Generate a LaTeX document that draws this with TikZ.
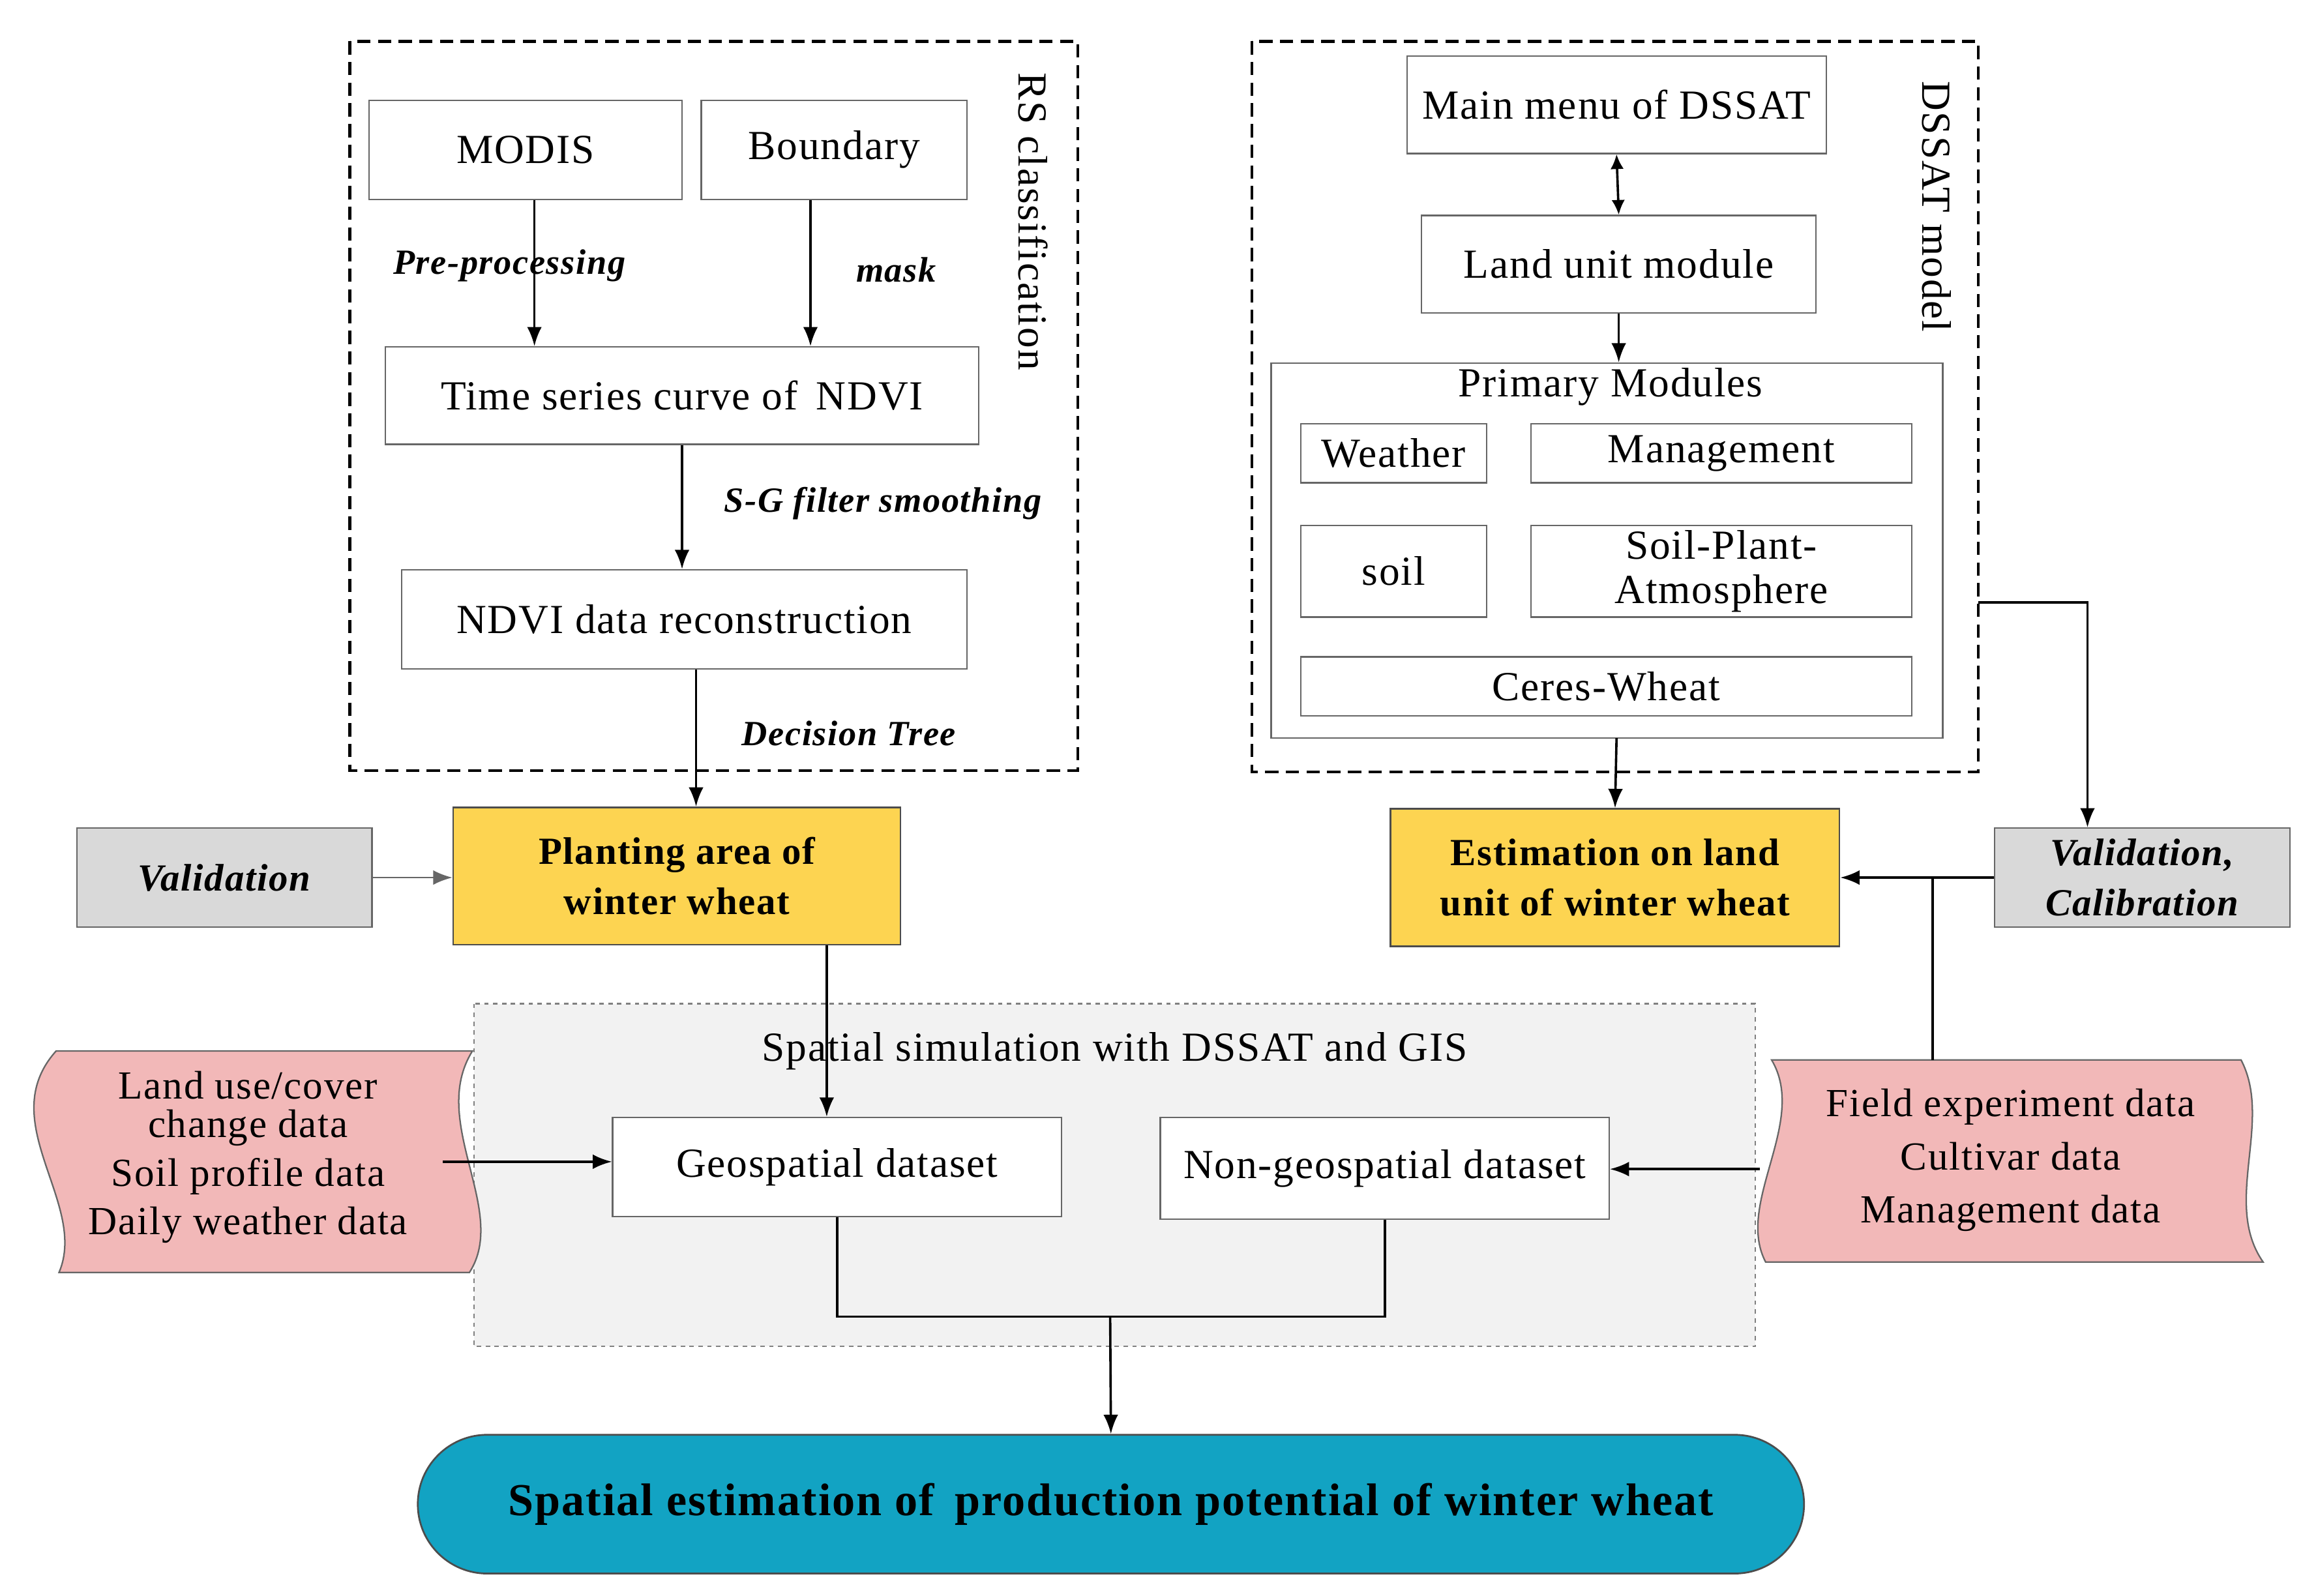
\documentclass[tikz,border=0pt]{standalone}
\usepackage{fontspec}
\setmainfont{Liberation Serif}[LetterSpace=3]
\usetikzlibrary{arrows.meta,calc}
\definecolor{yel}{HTML}{FDD451}
\definecolor{gr}{HTML}{D9D9D9}
\definecolor{pink}{HTML}{F2B8B8}
\definecolor{teal}{HTML}{12A3C3}
\begin{document}
\begin{tikzpicture}[x=1pt,y=-1pt,
 every node/.style={font=\fontsize{28}{30}\selectfont},
 box/.style={draw=black!60,line width=1pt,inner sep=0pt,align=center},
 dbox/.style={draw,dashed,line width=2pt,dash pattern=on 9pt off 5pt},
 arr/.style={line width=1.6pt,-{Latex[length=13pt,width=10pt]}},
 ln/.style={line width=1.6pt},
 lab/.style={font=\fontsize{24}{26}\selectfont\bfseries\itshape},
 hl/.style={box,draw=black!70,line width=1.2pt,font=\fontsize{26}{34}\selectfont\bfseries}]
\useasboundingbox (0,0) rectangle (1560,1081);
% RS classification
\draw[dbox] (237,28) rectangle (730,522);
\node[rotate=-90] (rs) at (700,150) {RS classification};
\node[box,minimum width=212pt,minimum height=67pt] (modis) at (356,101.5) {MODIS};
\node[box,minimum width=180pt,minimum height=67pt] (bnd) at (565,101.5) {Boundary};
\node[box,minimum width=402pt,minimum height=66pt] (ts) at (462,268) {Time series curve of\, NDVI};
\node[box,minimum width=383pt,minimum height=67pt] (rec) at (463.5,419.5) {NDVI data reconstruction};
\draw[arr] ($(modis.south)+(6,0)$) -- ($(modis.south|-ts.north)+(6,0)$);
\draw[arr] ($(bnd.south)+(-16,0)$) -- ($(bnd.south|-ts.north)+(-16,0)$);
\node[lab] (pp) at (345,180) {Pre-processing};
\node[lab] (mk) at (607,183) {mask};
\draw[arr] (ts.south) -- (ts.south|-rec.north);
\node[lab] (sg) at (598,341) {S-G filter smoothing};
\node[lab] (dt) at (575,497) {Decision Tree};
\node[hl,fill=yel,minimum width=303pt,minimum height=93pt] (plant) at (458.5,593.5) {Planting area of\\winter wheat};
\draw[arr] ($(rec.south)+(8,0)$) -- ($(rec.south|-plant.north)+(8,0)$);
\node[box,fill=gr,minimum width=200pt,minimum height=67pt,font=\fontsize{26}{34}\selectfont\bfseries\itshape] (val) at (152,594.5) {Validation};
\draw[line width=1.2pt,draw=black!60,-{Latex[length=13pt,width=10pt]}] (val.east) -- (plant.west|-val.east);
% DSSAT
\draw[dbox] (848,28) rectangle (1340,523);
\node[rotate=-90] (dm) at (1312,140) {DSSAT model};
\node[box,minimum width=284pt,minimum height=66pt] (mm) at (1095,71) {Main menu of DSSAT};
\node[box,minimum width=267pt,minimum height=66pt] (lu) at (1096.5,179) {Land unit module};
\draw[line width=1.6pt,{Latex[length=10pt,width=9pt]}-{Latex[length=10pt,width=9pt]}] (mm.south) -- (lu.north);
\node[box,minimum width=455pt,minimum height=254pt] (pm) at (1088.5,373) {};
\draw[arr] (lu.south) -- (lu.south|-pm.north);
\node (pmt) at (1091,262) {Primary Modules};
\node[box,minimum width=126pt,minimum height=40pt] (we) at (944,307) {Weather};
\node[box,minimum width=258pt,minimum height=40pt] (ma) at (1166,307) {Management};
\node[box,minimum width=126pt,minimum height=62pt] (so) at (944,387) {soil};
\node[box,minimum width=258pt,minimum height=62pt,font=\fontsize{28}{30}\selectfont] (spa) at (1166,387) {Soil-Plant-\\Atmosphere};
\node[box,minimum width=414pt,minimum height=40pt] (cw) at (1088,465) {Ceres-Wheat};
\node[hl,fill=yel,minimum width=304pt,minimum height=93pt] (est) at (1094,594.5) {Estimation on land\\unit of winter wheat};
\draw[arr] (1095,500) -- (est.north);
\node[box,fill=gr,minimum width=200pt,minimum height=67pt,font=\fontsize{26}{34}\selectfont\bfseries\itshape] (vc) at (1451,594.5) {Validation,\\Calibration};
\coordinate (dr) at (1340,408);
\draw[arr] (dr) -| (vc.north-|1414,0);
\draw[arr] (vc.west) -- (est.east|-vc.west);
% spatial
\draw[draw=black!50,dashed,line width=1pt,fill=black!5] (321,680) rectangle (1189,912);
\node (sst) at (755,712) {Spatial simulation with DSSAT and GIS};
\node[box,fill=white,minimum width=304pt,minimum height=67pt] (geo) at (567,790.5) {Geospatial dataset};
\node[box,fill=white,minimum width=304pt,minimum height=69pt] (ngeo) at (938,791.5) {Non-geospatial dataset};
\draw[arr] (plant.south-|560,0) -- (geo.north-|560,0);
% pink shapes
\draw[draw=black!60,line width=1pt,fill=pink] (38,712) -- (320,712) .. controls (290,760) and (345,820) .. (318,862) -- (40,862) .. controls (60,815) and (-5,760) .. (38,712) -- cycle;
\node[align=center,font=\fontsize{27}{33}\selectfont] (lt) at (168,784) {Land use/cover\\[-7pt]change data\\Soil profile data\\Daily weather data};
\draw[draw=black!60,line width=1pt,fill=pink] (1200,718) -- (1518,718) .. controls (1540,760) and (1505,815) .. (1533,855) -- (1196,855) .. controls (1175,815) and (1225,760) .. (1200,718) -- cycle;
\node[align=center,font=\fontsize{27}{36}\selectfont] (rt) at (1362,786) {Field experiment data\\Cultivar data\\Management data};
\draw[arr] (300,787) -- (geo.west|-0,787);
\draw[arr] (1192,792) -- (ngeo.east|-0,792);
\draw[ln] (1309,718) -- (1309,595);
% bottom
\node[draw=black!70,line width=1.2pt,fill=teal,rounded corners=47pt,minimum width=939pt,minimum height=94pt,font=\fontsize{31}{34}\selectfont\bfseries] (sp) at (752.5,1019) {Spatial estimation of\, production potential of winter wheat};
\draw[ln] (geo.south) -- (567,892) -- (938,892) -- (ngeo.south);
\draw[arr] (752,892) -- (sp.north);
\end{tikzpicture}
\end{document}
